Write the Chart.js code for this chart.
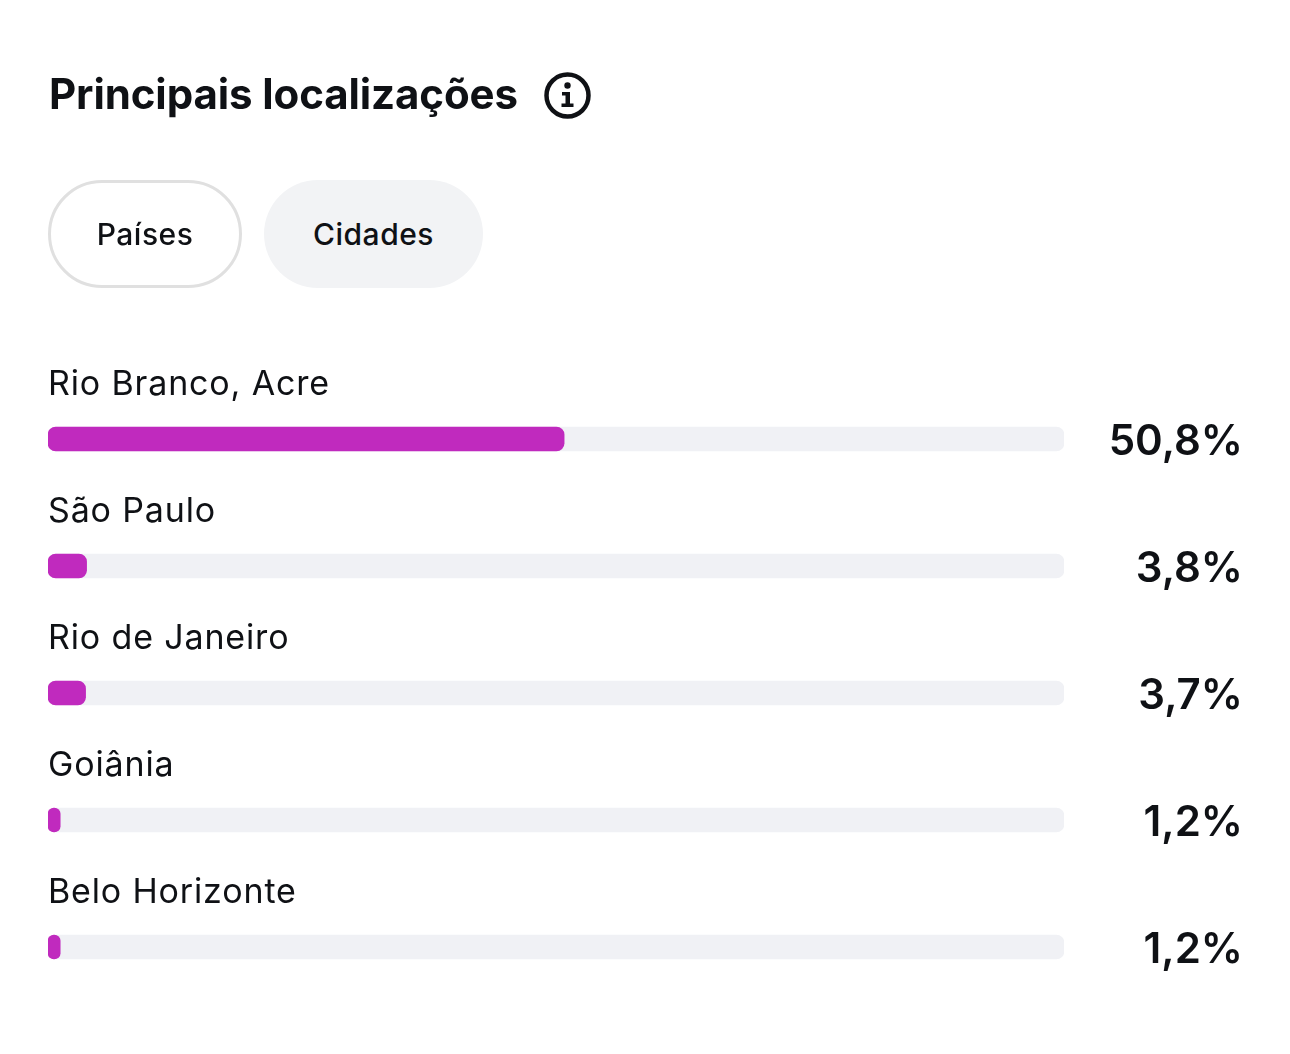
<!DOCTYPE html>
<html lang="pt">
<head>
<meta charset="utf-8">
<title>Principais localizações</title>
<script src="https://cdn.jsdelivr.net/npm/chart.js@4"></script>
<style>
    html, body { margin: 0; padding: 0; background: #fff; }
    body { width: 1290px; height: 1054px; position: relative; overflow: hidden; font-family: Inter, sans-serif; color: #0f1115; }
    #myChart { position: absolute; left: 0; top: 0; }
    h1 { position: absolute; left: 49px; top: 70px; margin: 0; font-size: 42px; line-height: 48px; font-weight: 700; letter-spacing: -0.1px; white-space: nowrap; }
    #info { position: absolute; left: 544px; top: 72px; }
    .tab { position: absolute; top: 180px; height: 108px; box-sizing: border-box; border-radius: 54px; font-size: 30px; font-weight: 500; line-height: 108px; text-align: center; letter-spacing: 0.5px; }
    #paises { left: 48px; width: 194px; border: 3px solid #e0e0e0; line-height: 102px; }
    #cidades { left: 264px; width: 219px; background: #f2f3f5; }
</style>
</head>
<body>
<canvas id="myChart" width="1290" height="1054"></canvas>
<h1>Principais localizações</h1>
<svg id="info" width="47" height="47" viewBox="0 0 47 47">
    <circle cx="23.5" cy="23.5" r="21" fill="none" stroke="#0f1115" stroke-width="4.5"/>
    <circle cx="23.5" cy="13.5" r="3.2" fill="#0f1115"/>
    <path d="M18 20 h8 v11.5 h3.5 v3.5 h-12 v-3.5 h4 v-8 h-3.5 z" fill="#0f1115"/>
</svg>
<div class="tab" id="paises">Países</div>
<div class="tab" id="cidades">Cidades</div>
<script>
var cidades = ['Rio Branco, Acre', 'São Paulo', 'Rio de Janeiro', 'Goiânia', 'Belo Horizonte'];
var porcentajes = [50.8, 3.8, 3.7, 1.2, 1.2];
var total = [100, 100, 100, 100, 100];

// Nombres arriba de cada barra y porcentaje a la derecha
var etiquetas = {
    id: 'etiquetas',
    afterDatasetsDraw: function (chart) {
        var ctx = chart.ctx;
        var y = chart.scales.y;
        ctx.save();
        ctx.textBaseline = 'alphabetic';
        cidades.forEach(function (nombre, i) {
            var centro = y.getPixelForValue(i);
            ctx.fillStyle = '#0f1115';
            ctx.font = '400 34px Inter, sans-serif';
            ctx.letterSpacing = '0.85px';
            ctx.textAlign = 'left';
            ctx.fillText(nombre, 48, centro - 44);
            ctx.font = '600 42px Inter, sans-serif';
            ctx.letterSpacing = '0px';
            ctx.textAlign = 'right';
            ctx.fillText(porcentajes[i].toFixed(1).replace('.', ',') + '%', 1243, centro + 16);
        });
        ctx.restore();
    }
};

var ctx = document.getElementById('myChart');
var myChart = new Chart(ctx, {
    type: 'bar',
    data: {
        labels: cidades,
        datasets: [
            {
                label: 'Porcentaje',
                data: porcentajes,
                backgroundColor: '#c02abe',
                borderRadius: 8,
                borderSkipped: false,
                barThickness: 24,
                order: 1
            },
            {
                label: 'Total',
                data: total,
                backgroundColor: '#f0f1f5',
                borderRadius: 8,
                borderSkipped: false,
                barThickness: 24,
                order: 2
            }
        ]
    },
    plugins: [etiquetas],
    options: {
        indexAxis: 'y',
        responsive: false,
        animation: false,
        layout: { padding: { left: 48, right: 226, top: 375.5, bottom: 43.5 } },
        datasets: { bar: { grouped: false } },
        plugins: { legend: { display: false }, tooltip: { enabled: false } },
        scales: {
            x: { display: false, min: 0, max: 100 },
            y: { display: false }
        }
    }
});
</script>
</body>
</html>
